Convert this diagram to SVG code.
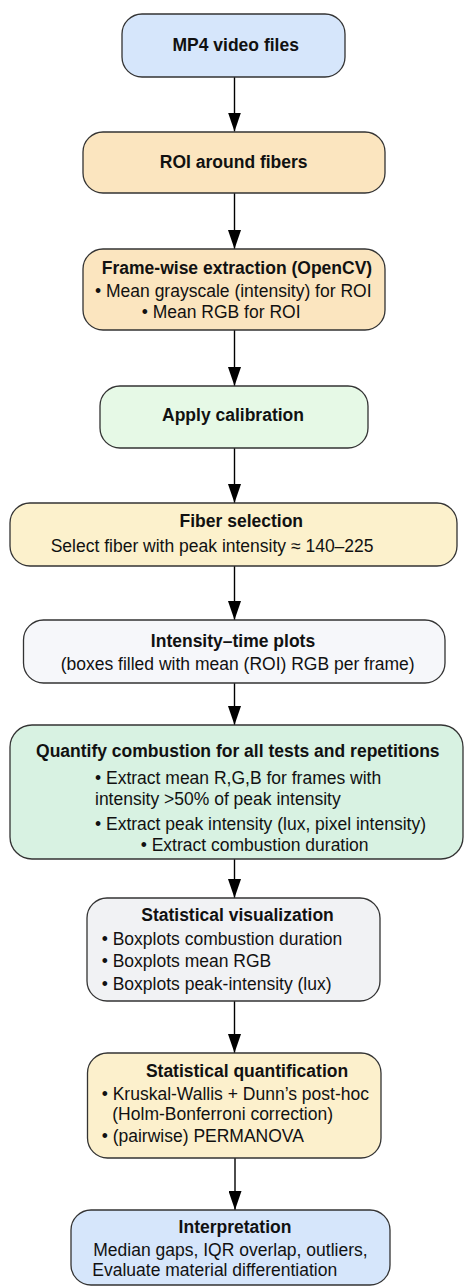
<svg xmlns="http://www.w3.org/2000/svg" width="465" height="1287" viewBox="0 0 465 1287">
  <style>
    .box { stroke: #333333; stroke-width: 1.3; }
    .t { font-family: "Liberation Sans", Arial, Helvetica, sans-serif; font-size: 17.5px; fill: #111111; }
    .b { font-weight: bold; }
    .c { text-anchor: middle; }
    .edge { stroke: #000000; stroke-width: 1.4; fill: none; }
  </style>
  <defs>
    <!-- filled triangular head, 19 long by 13 wide, tip on the line end -->
    <marker id="arrow" viewBox="0 0 19 13" refX="19" refY="6.5" markerWidth="19" markerHeight="13" markerUnits="userSpaceOnUse" orient="auto">
      <path d="M0,0 L19,6.5 L0,13 Z" fill="#000000"/>
    </marker>
  </defs>
  <rect width="465" height="1287" fill="#ffffff"/>

  <g id="connectors">
    <line class="edge" x1="234.5" y1="77" x2="234.5" y2="131.5" marker-end="url(#arrow)"/>
    <line class="edge" x1="234.5" y1="193" x2="234.5" y2="249" marker-end="url(#arrow)"/>
    <line class="edge" x1="234.5" y1="330" x2="234.5" y2="386" marker-end="url(#arrow)"/>
    <line class="edge" x1="234.5" y1="448" x2="234.5" y2="503" marker-end="url(#arrow)"/>
    <line class="edge" x1="234.5" y1="566" x2="234.5" y2="620" marker-end="url(#arrow)"/>
    <line class="edge" x1="234.5" y1="683" x2="234.5" y2="725" marker-end="url(#arrow)"/>
    <line class="edge" x1="234.5" y1="859" x2="234.5" y2="898" marker-end="url(#arrow)"/>
    <line class="edge" x1="234.5" y1="1001" x2="234.5" y2="1053" marker-end="url(#arrow)"/>
    <line class="edge" x1="235" y1="1158" x2="235" y2="1210" marker-end="url(#arrow)"/>
  </g>

  <g id="mp4">
    <rect class="box" x="122" y="14" width="223" height="63" rx="20" fill="#d6e6fb"/>
    <text class="t b c" x="235.7" y="51">MP4 video files</text>
  </g>

  <g id="roi">
    <rect class="box" x="83" y="132" width="302" height="61" rx="20" fill="#fbe5bf"/>
    <text class="t b c" x="233.7" y="168">ROI around fibers</text>
  </g>

  <g id="extraction">
    <rect class="box" x="83" y="249" width="302" height="81" rx="20" fill="#fbe5bf"/>
    <text class="t b c" x="237" y="273.5">Frame-wise extraction (OpenCV)</text>
    <text class="t" x="95" y="297">• Mean grayscale (intensity) for ROI</text>
    <text class="t" x="141.7" y="318">• Mean RGB for ROI</text>
  </g>

  <g id="calibration">
    <rect class="box" x="100" y="386" width="268" height="62" rx="20" fill="#e6f9e6"/>
    <text class="t b c" x="233" y="421">Apply calibration</text>
  </g>

  <g id="fiber">
    <rect class="box" x="10" y="503" width="447" height="63" rx="20" fill="#fcf1cc"/>
    <text class="t b c" x="241.3" y="527">Fiber selection</text>
    <text class="t" x="50.7" y="552">Select fiber with peak intensity ≈ 140–225</text>
  </g>

  <g id="plots">
    <rect class="box" x="23.5" y="620" width="421.5" height="63" rx="20" fill="#f6f7fa"/>
    <text class="t b c" x="233" y="647">Intensity–time plots</text>
    <text class="t" x="60.7" y="669.5">(boxes filled with mean (ROI) RGB per frame)</text>
  </g>

  <g id="quantify">
    <rect class="box" x="10" y="725" width="453" height="134" rx="22" fill="#d8f2e2"/>
    <text class="t b c" x="237.8" y="757">Quantify combustion for all tests and repetitions</text>
    <text class="t" x="95" y="783.5">• Extract mean R,G,B for frames with</text>
    <text class="t" x="95" y="805">intensity &gt;50% of peak intensity</text>
    <text class="t" x="95" y="829.5">• Extract peak intensity (lux, pixel intensity)</text>
    <text class="t" x="140.7" y="851">• Extract combustion duration</text>
  </g>

  <g id="visualization">
    <rect class="box" x="87" y="898" width="293" height="103" rx="20" fill="#f1f2f4"/>
    <text class="t b c" x="237.5" y="921">Statistical visualization</text>
    <text class="t" x="101.7" y="944.5">• Boxplots combustion duration</text>
    <text class="t" x="101.7" y="967">• Boxplots mean RGB</text>
    <text class="t" x="101.7" y="989.5">• Boxplots peak-intensity (lux)</text>
  </g>

  <g id="quantification">
    <rect class="box" x="87.5" y="1053" width="293.5" height="105" rx="20" fill="#fcf0cc"/>
    <text class="t b c" x="247" y="1077">Statistical quantification</text>
    <text class="t" x="101.7" y="1100">• Kruskal-Wallis + Dunn’s post-hoc</text>
    <text class="t" x="112.3" y="1119.5">(Holm-Bonferroni correction)</text>
    <text class="t" x="101.7" y="1142">• (pairwise) PERMANOVA</text>
  </g>

  <g id="interpretation">
    <rect class="box" x="71" y="1210" width="319" height="75" rx="20" fill="#d6e6fb"/>
    <text class="t b c" x="235" y="1233">Interpretation</text>
    <text class="t" x="93.3" y="1256">Median gaps, IQR overlap, outliers,</text>
    <text class="t" x="92.3" y="1276">Evaluate material differentiation</text>
  </g>
</svg>
